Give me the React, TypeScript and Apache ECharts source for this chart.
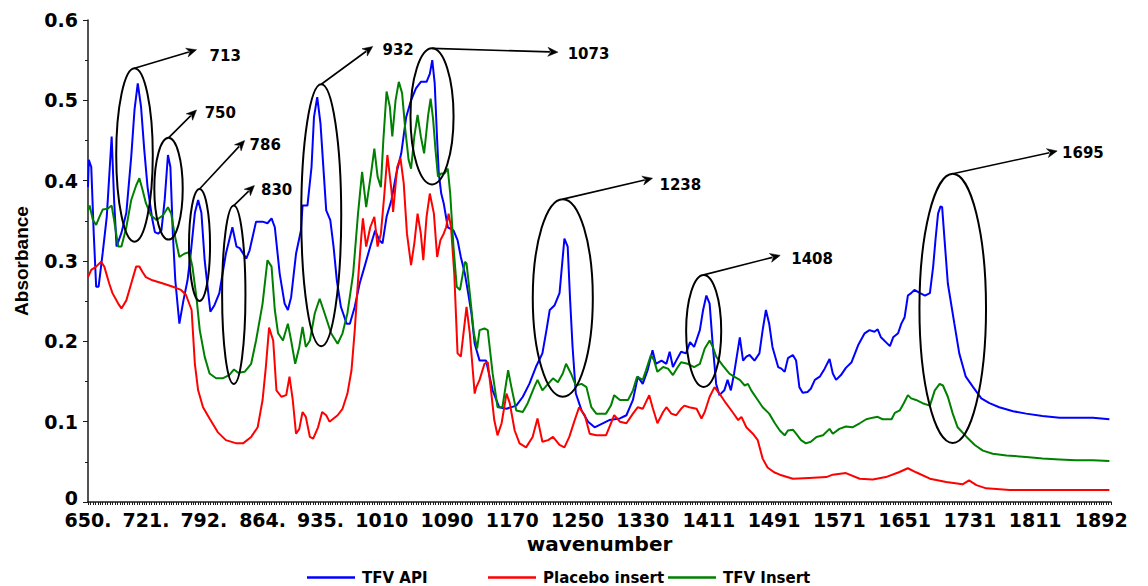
import React, { useEffect, useRef } from 'react';
import * as echarts from 'echarts';

const xTickValues = [650, 721, 792, 864, 935, 1010, 1090, 1170, 1250, 1330, 1411, 1491, 1571, 1651, 1731, 1811, 1892];
const xTickLabels = ['650.', '721.', '792.', '864.', '935.', '1010', '1090', '1170', '1250', '1330', '1411', '1491', '1571', '1651', '1731', '1811', '1892'];
const seriesNames = ['TFV API', 'Placebo insert', 'TFV Insert'];
const seriesColors = ['#0000FF', '#FF0000', '#008000'];

const tfvApi: [number, number][] = [
  [650, 0.392], [651, 0.426], [654, 0.417], [657, 0.335], [660, 0.268], [663, 0.268], [668, 0.310], [673, 0.355], [679, 0.455], [682, 0.376],
  [685, 0.318], [691, 0.335], [697, 0.360], [703, 0.430], [707, 0.488], [711, 0.521], [715, 0.492], [719, 0.438], [723, 0.392], [729, 0.351],
  [732, 0.336], [736, 0.334], [740, 0.338], [744, 0.376], [748, 0.432], [751, 0.417], [754, 0.334], [757, 0.276], [762, 0.222], [767, 0.251],
  [772, 0.276], [776, 0.310], [781, 0.360], [785, 0.376], [789, 0.360], [793, 0.301], [797, 0.264], [800, 0.237], [805, 0.245], [811, 0.260],
  [819, 0.309], [827, 0.342], [832, 0.318], [836, 0.316], [844, 0.303], [848, 0.313], [856, 0.349], [864, 0.349], [870, 0.347], [875, 0.353],
  [879, 0.342], [885, 0.284], [891, 0.247], [895, 0.239], [899, 0.255], [905, 0.309], [911, 0.338], [913, 0.369], [919, 0.369], [924, 0.417],
  [927, 0.479], [931, 0.504], [935, 0.471], [939, 0.409], [942, 0.363], [947, 0.351], [951, 0.318], [955, 0.276], [960, 0.243], [967, 0.222],
  [971, 0.222], [977, 0.243], [983, 0.272], [989, 0.293], [996, 0.318], [1002, 0.338], [1007, 0.326], [1011, 0.322], [1016, 0.355], [1022, 0.376],
  [1028, 0.409], [1034, 0.434], [1040, 0.479], [1046, 0.500], [1052, 0.515], [1058, 0.523], [1065, 0.523], [1069, 0.533], [1072, 0.550], [1075, 0.521],
  [1078, 0.450], [1080, 0.409], [1083, 0.384], [1086, 0.372], [1091, 0.342], [1098, 0.338], [1103, 0.326], [1107, 0.305], [1112, 0.284], [1116, 0.260],
  [1120, 0.235], [1124, 0.197], [1130, 0.176], [1138, 0.176], [1146, 0.139], [1154, 0.118], [1163, 0.116], [1175, 0.120], [1183, 0.131], [1191, 0.147],
  [1199, 0.168], [1207, 0.185], [1212, 0.214], [1216, 0.239], [1222, 0.245], [1228, 0.260], [1234, 0.328], [1238, 0.318], [1241, 0.251], [1244, 0.193],
  [1248, 0.135], [1255, 0.114], [1263, 0.100], [1271, 0.093], [1281, 0.098], [1289, 0.102], [1302, 0.104], [1310, 0.108], [1318, 0.127], [1324, 0.156],
  [1330, 0.147], [1336, 0.164], [1342, 0.189], [1346, 0.172], [1353, 0.176], [1359, 0.172], [1363, 0.187], [1367, 0.168], [1371, 0.176], [1377, 0.187],
  [1383, 0.185], [1388, 0.199], [1393, 0.193], [1400, 0.214], [1404, 0.239], [1408, 0.257], [1412, 0.247], [1416, 0.193], [1420, 0.147], [1424, 0.133],
  [1430, 0.139], [1434, 0.152], [1438, 0.139], [1442, 0.160], [1449, 0.205], [1453, 0.176], [1457, 0.181], [1461, 0.183], [1467, 0.176], [1473, 0.185],
  [1477, 0.214], [1481, 0.239], [1485, 0.222], [1489, 0.193], [1496, 0.168], [1500, 0.166], [1504, 0.162], [1508, 0.179], [1514, 0.183], [1518, 0.176],
  [1522, 0.143], [1526, 0.136], [1532, 0.137], [1536, 0.141], [1541, 0.152], [1547, 0.156], [1553, 0.166], [1559, 0.178], [1563, 0.160], [1567, 0.152],
  [1573, 0.158], [1579, 0.167], [1586, 0.174], [1594, 0.195], [1602, 0.210], [1608, 0.214], [1614, 0.212], [1618, 0.215], [1622, 0.205], [1628, 0.199],
  [1633, 0.194], [1637, 0.205], [1643, 0.210], [1647, 0.222], [1651, 0.230], [1655, 0.257], [1659, 0.260], [1663, 0.264], [1670, 0.260], [1676, 0.257],
  [1682, 0.260], [1686, 0.293], [1689, 0.328], [1692, 0.359], [1695, 0.368], [1697, 0.367], [1700, 0.326], [1704, 0.272], [1712, 0.222], [1718, 0.185],
  [1726, 0.156], [1735, 0.143], [1745, 0.129], [1755, 0.123], [1767, 0.118], [1784, 0.113], [1800, 0.110], [1820, 0.107], [1841, 0.105], [1861, 0.105],
  [1882, 0.105], [1902, 0.103],
];

const placeboInsert: [number, number][] = [
  [650, 0.280], [654, 0.289], [660, 0.293], [666, 0.299], [670, 0.293], [676, 0.272], [680, 0.260], [687, 0.247], [691, 0.241], [697, 0.251],
  [703, 0.272], [709, 0.293], [713, 0.293], [717, 0.286], [721, 0.280], [729, 0.276], [742, 0.272], [754, 0.268], [764, 0.264], [770, 0.258],
  [777, 0.239], [781, 0.172], [785, 0.139], [791, 0.118], [799, 0.104], [809, 0.087], [819, 0.077], [832, 0.073], [840, 0.073], [850, 0.081],
  [858, 0.093], [864, 0.127], [868, 0.168], [872, 0.217], [877, 0.201], [881, 0.139], [887, 0.131], [893, 0.133], [897, 0.156], [901, 0.127],
  [905, 0.085], [909, 0.091], [913, 0.112], [917, 0.106], [922, 0.081], [926, 0.079], [932, 0.093], [937, 0.112], [942, 0.108], [946, 0.100],
  [956, 0.108], [962, 0.116], [968, 0.135], [973, 0.164], [977, 0.214], [981, 0.276], [985, 0.330], [987, 0.353], [991, 0.318], [996, 0.342],
  [1001, 0.355], [1005, 0.318], [1009, 0.334], [1013, 0.380], [1017, 0.432], [1022, 0.388], [1024, 0.361], [1029, 0.417], [1033, 0.428], [1037, 0.397],
  [1041, 0.334], [1046, 0.295], [1050, 0.322], [1054, 0.359], [1058, 0.334], [1061, 0.301], [1065, 0.355], [1069, 0.384], [1074, 0.359], [1078, 0.305],
  [1082, 0.326], [1086, 0.334], [1089, 0.342], [1092, 0.359], [1095, 0.342], [1099, 0.284], [1103, 0.185], [1107, 0.181], [1114, 0.243], [1118, 0.210],
  [1122, 0.160], [1124, 0.135], [1126, 0.143], [1130, 0.152], [1136, 0.172], [1140, 0.174], [1144, 0.139], [1148, 0.102], [1152, 0.083], [1157, 0.098],
  [1163, 0.135], [1167, 0.123], [1173, 0.089], [1179, 0.073], [1187, 0.068], [1195, 0.081], [1201, 0.104], [1207, 0.075], [1214, 0.077], [1220, 0.081],
  [1228, 0.071], [1234, 0.068], [1240, 0.081], [1246, 0.100], [1252, 0.118], [1259, 0.108], [1265, 0.085], [1273, 0.083], [1285, 0.083], [1291, 0.098],
  [1295, 0.108], [1302, 0.100], [1310, 0.098], [1318, 0.110], [1324, 0.118], [1330, 0.116], [1338, 0.133], [1342, 0.118], [1348, 0.098], [1355, 0.112],
  [1359, 0.118], [1365, 0.110], [1371, 0.108], [1377, 0.116], [1381, 0.120], [1387, 0.118], [1396, 0.116], [1402, 0.104], [1406, 0.112], [1412, 0.131],
  [1418, 0.143], [1424, 0.135], [1432, 0.123], [1440, 0.112], [1447, 0.102], [1451, 0.106], [1457, 0.093], [1465, 0.085], [1471, 0.077], [1477, 0.054],
  [1483, 0.043], [1491, 0.037], [1498, 0.034], [1514, 0.029], [1534, 0.030], [1555, 0.031], [1563, 0.034], [1579, 0.036], [1596, 0.029], [1612, 0.028],
  [1628, 0.031], [1644, 0.037], [1655, 0.042], [1665, 0.037], [1682, 0.029], [1702, 0.025], [1722, 0.022], [1730, 0.027], [1739, 0.021], [1751, 0.017],
  [1780, 0.015], [1820, 0.015], [1861, 0.015], [1902, 0.015],
];

const tfvInsert: [number, number][] = [
  [650, 0.363], [652, 0.369], [656, 0.351], [660, 0.345], [664, 0.355], [668, 0.364], [674, 0.365], [679, 0.369], [682, 0.351], [687, 0.318],
  [691, 0.318], [697, 0.342], [703, 0.376], [709, 0.394], [713, 0.403], [717, 0.388], [721, 0.372], [727, 0.357], [734, 0.351], [742, 0.357],
  [748, 0.367], [752, 0.359], [756, 0.334], [762, 0.305], [768, 0.309], [774, 0.311], [778, 0.293], [783, 0.254], [787, 0.214], [793, 0.181],
  [799, 0.160], [807, 0.154], [815, 0.154], [823, 0.158], [829, 0.165], [834, 0.161], [842, 0.162], [850, 0.172], [856, 0.201], [864, 0.247],
  [870, 0.301], [875, 0.293], [879, 0.239], [883, 0.210], [889, 0.201], [895, 0.222], [899, 0.201], [904, 0.172], [909, 0.193], [913, 0.218],
  [917, 0.193], [922, 0.201], [928, 0.235], [934, 0.253], [940, 0.235], [948, 0.210], [956, 0.197], [962, 0.210], [968, 0.235], [975, 0.284],
  [981, 0.359], [986, 0.411], [991, 0.367], [997, 0.409], [1001, 0.440], [1005, 0.405], [1009, 0.392], [1012, 0.450], [1016, 0.511], [1020, 0.492],
  [1023, 0.455], [1027, 0.500], [1031, 0.523], [1035, 0.509], [1039, 0.463], [1043, 0.426], [1046, 0.415], [1050, 0.455], [1054, 0.482], [1058, 0.455],
  [1062, 0.434], [1067, 0.482], [1070, 0.502], [1073, 0.477], [1076, 0.438], [1079, 0.405], [1083, 0.409], [1087, 0.409], [1091, 0.415], [1094, 0.384],
  [1098, 0.318], [1102, 0.268], [1106, 0.264], [1112, 0.299], [1114, 0.297], [1118, 0.260], [1123, 0.210], [1127, 0.191], [1130, 0.214], [1136, 0.216],
  [1140, 0.214], [1146, 0.160], [1152, 0.118], [1158, 0.118], [1165, 0.164], [1169, 0.143], [1175, 0.114], [1183, 0.112], [1189, 0.123], [1197, 0.143],
  [1201, 0.152], [1207, 0.139], [1214, 0.147], [1220, 0.154], [1226, 0.149], [1232, 0.160], [1236, 0.172], [1242, 0.160], [1248, 0.145], [1255, 0.147],
  [1261, 0.143], [1267, 0.118], [1273, 0.110], [1285, 0.110], [1291, 0.120], [1295, 0.133], [1302, 0.127], [1312, 0.127], [1318, 0.139], [1323, 0.156],
  [1330, 0.152], [1334, 0.164], [1340, 0.183], [1344, 0.176], [1348, 0.162], [1355, 0.168], [1361, 0.166], [1367, 0.158], [1373, 0.168], [1377, 0.174],
  [1385, 0.172], [1393, 0.168], [1400, 0.172], [1406, 0.191], [1412, 0.201], [1416, 0.193], [1420, 0.181], [1428, 0.170], [1436, 0.160], [1442, 0.156],
  [1449, 0.152], [1455, 0.145], [1459, 0.147], [1463, 0.139], [1471, 0.127], [1477, 0.118], [1485, 0.110], [1492, 0.098], [1498, 0.089], [1504, 0.083],
  [1508, 0.089], [1514, 0.090], [1518, 0.085], [1524, 0.077], [1530, 0.073], [1536, 0.075], [1543, 0.081], [1551, 0.083], [1559, 0.091], [1563, 0.085],
  [1571, 0.091], [1579, 0.094], [1587, 0.093], [1596, 0.098], [1604, 0.103], [1612, 0.105], [1618, 0.106], [1624, 0.103], [1635, 0.103], [1639, 0.111],
  [1645, 0.114], [1650, 0.123], [1655, 0.133], [1659, 0.129], [1665, 0.127], [1673, 0.123], [1682, 0.120], [1688, 0.139], [1694, 0.147], [1698, 0.145],
  [1704, 0.131], [1710, 0.110], [1716, 0.093], [1727, 0.081], [1737, 0.071], [1747, 0.064], [1759, 0.060], [1776, 0.058], [1800, 0.056], [1820, 0.054],
  [1841, 0.053], [1861, 0.052], [1882, 0.052], [1902, 0.051],
];

// Peak annotations (data coordinates: wavenumber, absorbance)
const peakLabels = ['713', '750', '786', '830', '932', '1073', '1238', '1408', '1695'];
const peakEllipseCenters: [number, number][] = [
  [707, 0.432], [748.7, 0.390], [786.7, 0.320], [828.7, 0.258], [935.9, 0.357], [1071.7, 0.480], [1232, 0.254], [1404.7, 0.213], [1710, 0.241],
];
const peakEllipseRadii: [number, number][] = [
  [22.4, 0.108], [17.4, 0.0633], [12.9, 0.0697], [14.3, 0.111], [24.5, 0.163], [26.4, 0.0847], [36.8, 0.123], [21.5, 0.0697], [40.8, 0.1675],
];
const peakArrowTips: [number, number][] = [
  [783, 0.563], [783, 0.488], [842, 0.450], [854, 0.394], [999, 0.567], [1226, 0.560], [1342, 0.403], [1498.5, 0.307], [1838, 0.437],
];
const peakLabelAnchors: [number, number][] = [
  [799, 0.555], [793, 0.484], [848, 0.445], [862, 0.389], [1011, 0.563], [1238, 0.558], [1350.5, 0.395], [1512, 0.302], [1844, 0.435],
];

const AXIS_COLOR = '#1a1a1a';
const BOLD_WIDE = 'DejaVu Sans';

export default function App() {
  const ref = useRef<HTMLDivElement>(null);

  useEffect(() => {
    if (!ref.current) return;
    const chart = echarts.init(ref.current, null, { renderer: 'svg' });

    const minorX: number[] = [];
    for (let v = 650; v <= 1904; v += 3) minorX.push(v);

    const legendCommon = {
      orient: 'horizontal',
      top: 570,
      padding: 0,
      icon: 'rect',
      itemWidth: 48,
      itemHeight: 2.5,
      itemGap: 0,
      textStyle: { fontFamily: BOLD_WIDE, fontWeight: 'bold', fontSize: 15, color: '#000', padding: [0, 0, 0, 2] },
    };

    const option: any = {
      animation: false,
      backgroundColor: '#fff',
      grid: { left: 88, right: 37, top: 20, bottom: 84, containLabel: false },
      legend: [
        { ...legendCommon, left: 307, data: [seriesNames[0]] },
        { ...legendCommon, left: 488, data: [seriesNames[1]] },
        { ...legendCommon, left: 668, data: [seriesNames[2]] },
      ],
      xAxis: {
        type: 'value',
        min: 650,
        max: 1904,
        name: 'wavenumber',
        nameLocation: 'middle',
        nameGap: 27,
        nameTextStyle: { fontFamily: BOLD_WIDE, fontWeight: 'bold', fontSize: 20, color: '#000' },
        axisLine: { show: true, lineStyle: { color: AXIS_COLOR, width: 1.5 } },
        axisTick: { show: true, customValues: minorX, length: 3, lineStyle: { color: AXIS_COLOR, width: 1 } },
        axisLabel: {
          customValues: xTickValues,
          formatter: (v: number) => {
            const i = xTickValues.indexOf(v);
            return i >= 0 ? xTickLabels[i] : '';
          },
          margin: 10,
          lineHeight: 16,
          fontFamily: BOLD_WIDE,
          fontWeight: 'bold',
          fontSize: 19,
          color: '#000',
        },
        splitLine: { show: false },
      },
      yAxis: {
        type: 'value',
        min: 0,
        max: 0.6,
        interval: 0.1,
        name: 'Absorbance',
        nameLocation: 'middle',
        nameGap: 57,
        nameTextStyle: { fontFamily: 'Liberation Sans', fontWeight: 'bold', fontSize: 19, color: '#000' },
        axisLine: { show: true, lineStyle: { color: AXIS_COLOR, width: 1.5 } },
        axisTick: { show: true, length: 5, lineStyle: { color: AXIS_COLOR, width: 1 } },
        minorTick: { show: true, splitNumber: 2, length: 3, lineStyle: { color: AXIS_COLOR, width: 1 } },
        axisLabel: {
          formatter: (v: number) => (v === 0 ? '{zero|0}' : v.toFixed(1)),
          margin: 10,
          lineHeight: 15,
          fontFamily: BOLD_WIDE,
          fontWeight: 'bold',
          fontSize: 19,
          color: '#000',
          rich: {
            zero: {
              fontFamily: BOLD_WIDE,
              fontWeight: 'bold',
              fontSize: 19,
              lineHeight: 15,
              color: '#000',
              padding: [0, 0, 8, 0],
            },
          },
        },
        splitLine: { show: false },
      },
      series: [tfvApi, placeboInsert, tfvInsert].map((d, i) => ({
        name: seriesNames[i],
        type: 'line',
        data: d,
        symbol: 'none',
        showSymbol: false,
        smooth: false,
        color: seriesColors[i],
        itemStyle: { color: seriesColors[i] },
        lineStyle: { color: seriesColors[i], width: 2 },
        silent: true,
      })),
    };

    chart.setOption(option);

    const toPx = (p: [number, number]) => chart.convertToPixel({ gridIndex: 0 }, p) as number[];
    const graphics: any[] = [];
    peakLabels.forEach((label, i) => {
      const c = toPx(peakEllipseCenters[i]);
      const e = toPx([peakEllipseCenters[i][0] + peakEllipseRadii[i][0], peakEllipseCenters[i][1] + peakEllipseRadii[i][1]]);
      const rx = Math.abs(e[0] - c[0]);
      const ry = Math.abs(e[1] - c[1]);
      graphics.push({
        type: 'ellipse',
        silent: true,
        z: 100,
        shape: { cx: c[0], cy: c[1], rx, ry },
        style: { fill: 'none', stroke: '#000', lineWidth: 2 },
      });
      const start = [c[0], c[1] - ry];
      const tip = toPx(peakArrowTips[i]);
      const dx = tip[0] - start[0];
      const dy = tip[1] - start[1];
      const len = Math.hypot(dx, dy) || 1;
      const ux = dx / len;
      const uy = dy / len;
      const headLen = 10;
      const headW = 4.5;
      const bx = tip[0] - ux * headLen;
      const by = tip[1] - uy * headLen;
      graphics.push({
        type: 'line',
        silent: true,
        z: 100,
        shape: { x1: start[0], y1: start[1], x2: bx + ux * 2, y2: by + uy * 2 },
        style: { stroke: '#000', lineWidth: 1.6 },
      });
      graphics.push({
        type: 'polygon',
        silent: true,
        z: 100,
        shape: {
          points: [
            [tip[0], tip[1]],
            [bx - uy * headW, by + ux * headW],
            [bx + ux * 3, by + uy * 3],
            [bx + uy * headW, by - ux * headW],
          ],
        },
        style: { fill: '#000', stroke: '#000', lineWidth: 0.5 },
      });
      const t = toPx(peakLabelAnchors[i]);
      graphics.push({
        type: 'text',
        silent: true,
        z: 100,
        x: t[0],
        y: t[1],
        style: {
          text: label,
          fill: '#000',
          fontFamily: BOLD_WIDE,
          fontWeight: 'bold',
          fontSize: 15,
          textAlign: 'left',
          textVerticalAlign: 'middle',
          align: 'left',
          verticalAlign: 'middle',
        },
      });
    });
    chart.setOption({ graphic: graphics });

    return () => chart.dispose();
  }, []);

  return <div ref={ref} style={{ position: 'fixed', left: 0, top: 0, width: 1148, height: 586 }} />;
}
